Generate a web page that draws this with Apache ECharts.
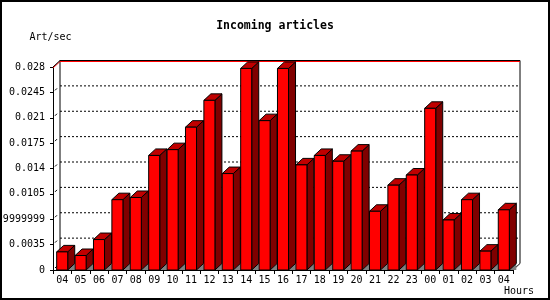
<!DOCTYPE html>
<html><head><meta charset="utf-8">
<script src="https://cdn.jsdelivr.net/npm/echarts@6/dist/echarts.min.js"></script>
<style>html,body{margin:0;padding:0;background:#fff}#c{width:550px;height:300px}</style>
</head><body><div id="c"></div>
<script>
const categories = ['04','05','06','07','08','09','10','11','12','13','14','15','16','17','18','19','20','21','22','23','00','01','02','03','04'];
const articlesPerSec = [0.0025,0.0020,0.0042,0.0097,0.0100,0.0158,0.0166,0.0197,0.0234,0.0133,0.0278,0.0206,0.0278,0.0145,0.0158,0.0150,0.0164,0.0081,0.0117,0.0131,0.0223,0.0069,0.0097,0.0026,0.0083];
const yTickLabels = ['0','0.0035','0.0069999999999999','0.0105','0.014','0.0175','0.021','0.0245','0.028'];
const yTickValues = [0,0.0035,0.007,0.0105,0.014,0.0175,0.021,0.0245,0.028];
const yMax = 0.028, yStep = 0.0035;
const titleText = 'Incoming articles';
const yName = 'Art/sec';
const xName = 'Hours';

const DX = 7, DY = 6.5;
const FONT = '"DejaVu Sans Mono", "Liberation Mono", monospace';

function wallRender(params, api) {
  const cs = params.coordSys;
  const left = cs.x, right = cs.x + cs.width, top = cs.y, bottom = cs.y + cs.height;
  const ch = [];
  yTickValues.forEach(function (v) {
    const y = api.coord([0, v])[1];
    if (v > 0 && v < yMax) {
      ch.push({type:'line', shape:{x1:left+DX, y1:y-DY, x2:right+DX, y2:y-DY}, style:{stroke:'#000', lineWidth:1, lineDash:[2,2]}});
    }
    if (v < yMax) {
      ch.push({type:'line', shape:{x1:left+2, y1:y-2, x2:left+4, y2:y-4}, style:{stroke:'#000', lineWidth:1}});
    }
  });
  ch.push({type:'line', shape:{x1:left+DX, y1:top-DY, x2:left+DX, y2:bottom-DY}, style:{stroke:'#000', lineWidth:1}});
  ch.push({type:'line', shape:{x1:right+DX, y1:top-DY, x2:right+DX, y2:bottom-DY}, style:{stroke:'#000', lineWidth:1}});
  ch.push({type:'line', shape:{x1:left+DX, y1:top-DY+1, x2:right+DX, y2:top-DY+1}, style:{stroke:'#ff0000', lineWidth:1}});
  ch.push({type:'line', shape:{x1:left+DX, y1:top-DY, x2:right+DX, y2:top-DY}, style:{stroke:'#000', lineWidth:1}});
  ch.push({type:'line', shape:{x1:left, y1:top+1, x2:left+DX, y2:top-DY+1}, style:{stroke:'#ff0000', lineWidth:1}});
  ch.push({type:'line', shape:{x1:left, y1:top, x2:left+DX, y2:top-DY}, style:{stroke:'#000', lineWidth:1}});
  ch.push({type:'line', shape:{x1:right, y1:bottom, x2:right+DX, y2:bottom-DY}, style:{stroke:'#000', lineWidth:1}});
  return {type:'group', children: ch};
}

function barRender(params, api) {
  const i = api.value(0), v = api.value(1);
  const base = api.coord([i, 0]);
  const topP = api.coord([i, v]);
  const band = api.size([1, 0])[0];
  const w = band * 0.6;
  const xL = base[0] - w / 2, xR = base[0] + w / 2;
  const y0 = base[1], y1 = topP[1];
  return {type:'group', children:[
    {type:'polygon', shape:{points:[[xR,y0],[xR+DX,y0-DY],[xR+DX,y0]]}, style:{fill:'#808080'}},
    {type:'polygon', shape:{points:[[xR,y1],[xR+DX,y1-DY],[xR+DX,y0-DY],[xR,y0]]}, style:{fill:'#800000', stroke:'#000', lineWidth:1}},
    {type:'polygon', shape:{points:[[xL,y1],[xL+DX,y1-DY],[xR+DX,y1-DY],[xR,y1]]}, style:{fill:'#c00000', stroke:'#000', lineWidth:1}},
    {type:'rect', shape:{x:xL, y:y1, width:w, height:y0-y1}, style:{fill:'#ff0000', stroke:'#000', lineWidth:1}}
  ]};
}

const chart = echarts.init(document.getElementById('c'), null, {renderer:'canvas'});
chart.setOption({
  animation: false,
  backgroundColor: '#fff',
  title: {text: titleText, left: 'center', top: 20, padding: 0,
    textStyle: {fontFamily: FONT, fontSize: 11.5, fontWeight: 'bold', color: '#000'}},
  grid: {left: 53, top: 67, right: 37, bottom: 30, containLabel: false, outerBoundsMode: 'none'},
  xAxis: {
    type: 'category', data: categories, boundaryGap: true,
    name: xName, nameLocation: 'end', nameGap: 6,
    nameTextStyle: {fontFamily: FONT, fontSize: 10, color: '#000', align: 'center', verticalAlign: 'top', padding: [16,0,0,0]},
    axisLine: {lineStyle: {color: '#000', width: 1}},
    axisTick: {show: true, length: 4, interval: 0, lineStyle: {color: '#000'}},
    axisLabel: {interval: 0, margin: 5, fontFamily: FONT, fontSize: 10, color: '#000'},
    splitLine: {show: false}
  },
  yAxis: {
    type: 'value', min: 0, max: yMax, interval: yStep,
    name: yName, nameLocation: 'end', nameGap: 25,
    nameTextStyle: {fontFamily: FONT, fontSize: 10, color: '#000', align: 'center', padding: [0,5,0,0]},
    axisLine: {show: true, lineStyle: {color: '#000', width: 1}},
    axisTick: {show: true, length: 3, lineStyle: {color: '#000'}},
    axisLabel: {margin: 8, fontFamily: FONT, fontSize: 10, color: '#000', hideOverlap: false,
      formatter: function (val, idx) { return yTickLabels[idx]; }},
    splitLine: {show: false}
  },
  graphic: [{type:'rect', silent:true, z:100, shape:{x:1, y:1, width:548, height:298}, style:{fill:'none', stroke:'#000', lineWidth:2}}],
  series: [
    {type:'custom', name:'wall', z:1, silent:true, data:[[0,0]], renderItem: wallRender},
    {type:'custom', name:'Incoming', z:2, data: articlesPerSec.map(function (v, i) { return [i, v]; }),
      encode: {x: 0, y: 1}, renderItem: barRender}
  ]
});
</script></body></html>
